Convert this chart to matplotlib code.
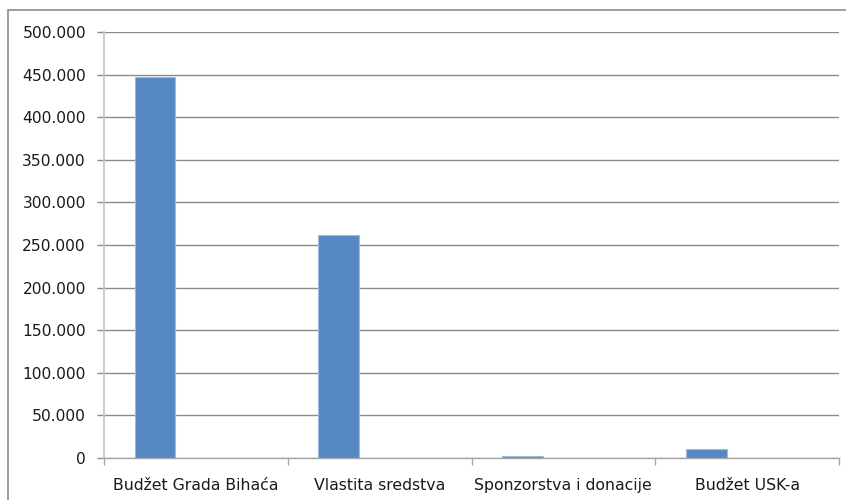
import matplotlib.pyplot as plt
from matplotlib.patches import Rectangle
from matplotlib.ticker import FuncFormatter, FixedLocator

categories = ['Budžet Grada Bihaća', 'Vlastita sredstva', 'Sponzorstva i donacije', 'Budžet USK-a']
values = [447000, 262000, 2500, 10000]

plt.rcParams['font.family'] = ['DejaVu Sans']

fig = plt.figure(figsize=(8.46, 5.0), dpi=100)
fig.patches.append(Rectangle((7.5 / 846, -0.1), 1.2, (500 - 9.5) / 500 + 0.1,
                             transform=fig.transFigure, fill=False,
                             edgecolor='#8c8c8c', linewidth=1.2))
ax = fig.add_axes([104 / 846, 42 / 500, (839 - 104) / 846, (458 - 32) / 500])

# excel-like cluster: 3 slots, gap width 150%
w = 1 / 4.5
x = [i - w for i in range(len(categories))]
ax.bar(x, values, width=w, color='#5689c4', edgecolor='#9dbbe0', linewidth=0.8, zorder=3)

ax.set_xlim(-0.5, len(categories) - 0.5)
ax.set_ylim(0, 500000)
ax.set_yticks(range(0, 500001, 50000))
ax.yaxis.set_major_formatter(FuncFormatter(lambda v, p: '{:,.0f}'.format(v).replace(',', '.')))
ax.grid(axis='y', color='#8a8a8a', linewidth=1.0, zorder=0)

ax.xaxis.set_major_locator(FixedLocator([i - 0.5 for i in range(len(categories) + 1)]))
ax.xaxis.set_minor_locator(FixedLocator(range(len(categories))))
ax.set_xticklabels([], minor=False)
ax.set_xticklabels(categories, minor=True)
ax.tick_params(axis='x', which='major', length=5, color='#a6a6a6', width=1)
ax.tick_params(axis='x', which='minor', length=0, pad=23, labelsize=11.3, labelcolor='#1a1a1a')
for lab in ax.get_xticklabels(minor=True):
    lab.set_verticalalignment('baseline')
ax.tick_params(axis='y', length=5, color='#8a8a8a', width=1, pad=8, labelsize=11.2, labelcolor='#1a1a1a')

for s in ['top', 'right']:
    ax.spines[s].set_visible(False)
ax.spines['left'].set_color('#c4c4c4')
ax.spines['left'].set_linewidth(1.2)
ax.spines['bottom'].set_color('#a6a6a6')
ax.spines['bottom'].set_linewidth(1.0)
ax.spines['bottom'].set_zorder(4)

fig.savefig('out.png', dpi=100)
